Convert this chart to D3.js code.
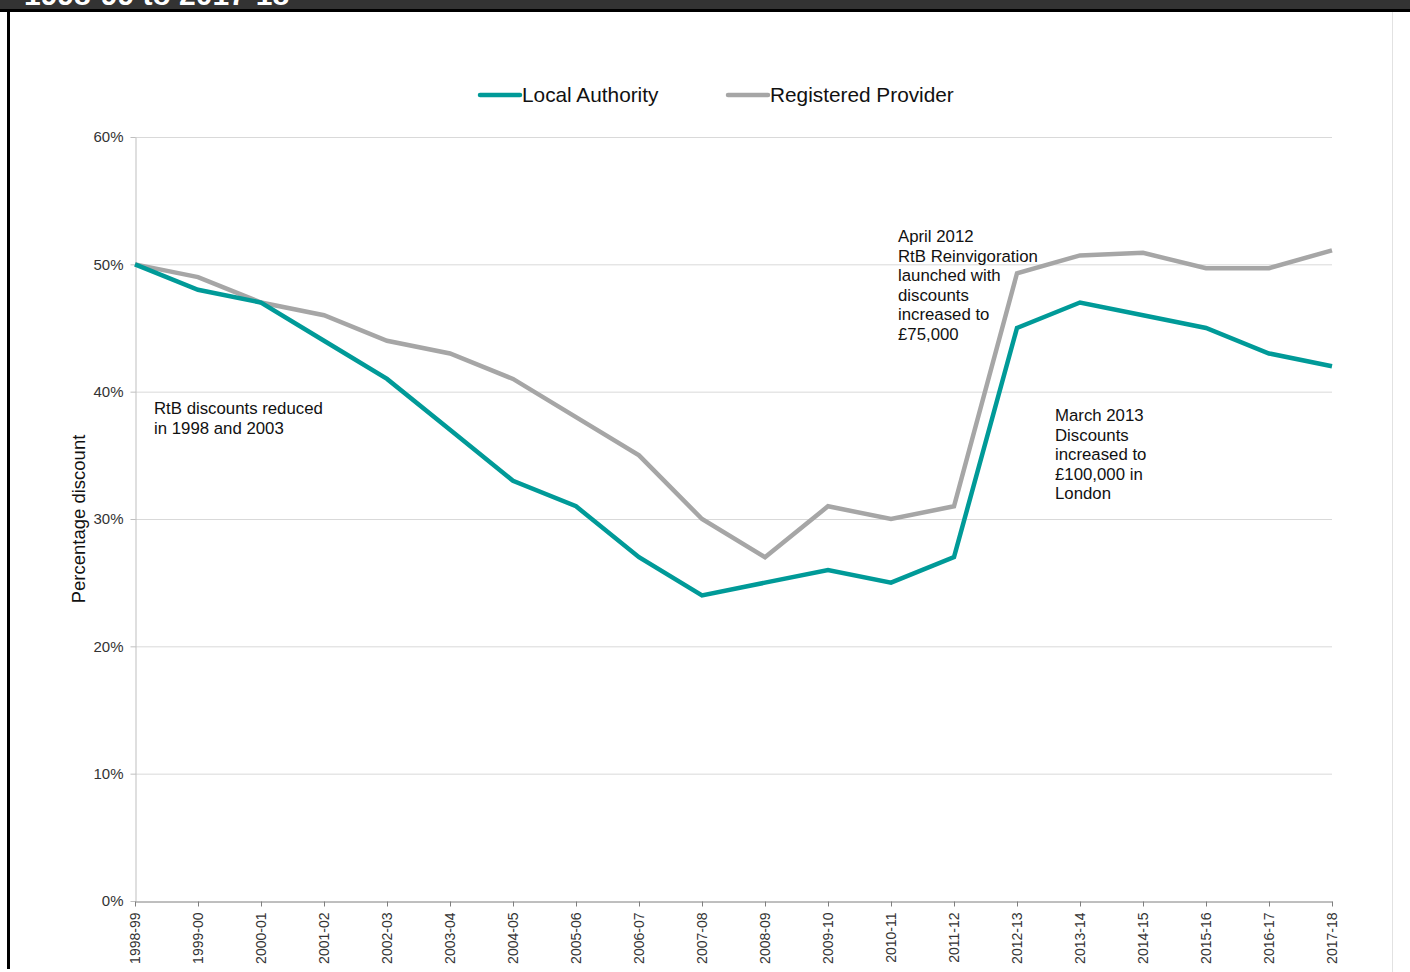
<!DOCTYPE html>
<html>
<head>
<meta charset="utf-8">
<script src="https://cdn.jsdelivr.net/npm/d3@7"></script>
<style>
  html, body { margin: 0; padding: 0; background: #fff; }
  svg { display: block; font-family: "Liberation Sans", Arial, sans-serif; }
</style>
</head>
<body>
<svg id="chart" width="1410" height="972"></svg>
<script>
// Financial years on the x axis
const years = ["1998-99","1999-00","2000-01","2001-02","2002-03","2003-04","2004-05",
  "2005-06","2006-07","2007-08","2008-09","2009-10","2010-11","2011-12","2012-13",
  "2013-14","2014-15","2015-16","2016-17","2017-18"];

// Average Right to Buy discount, percent of market value
const localAuthority = [50, 48, 47, 44, 41, 37, 33, 31, 27, 24, 25, 26, 25, 27, 45, 47, 46, 45, 43, 42];
const registeredProvider = [50, 49, 47, 46, 44, 43, 41, 38, 35, 30, 27, 31, 30, 31, 49.3, 50.7, 50.9, 49.7, 49.7, 51.1];

const seriesNames = ["Local Authority", "Registered Provider"];
const seriesColors = ["#009a98", "#a6a6a6"];
const yTicks = [0, 10, 20, 30, 40, 50, 60];

const notes = [
  { year: "1998-99", value: 38.7, dx: 19, lines: ["RtB discounts reduced", "in 1998 and 2003"] },
  { year: "2011-12", value: 52.2, dx: -56, lines: ["April 2012", "RtB Reinvigoration", "launched with", "discounts", "increased to", "£75,000"] },
  { year: "2014-15", value: 38.15, dx: -88, lines: ["March 2013", "Discounts", "increased to", "£100,000 in", "London"] }
];

const svg = d3.select("#chart");
const margin = { left: 135, right: 78, top: 137, bottom: 71 };
const W = 1410, H = 972;

// Frame: title strip, black rule and left border, faint right edge
svg.append("rect").attr("x", 0).attr("y", 0).attr("width", W).attr("height", 9).attr("fill", "#333333");
svg.append("text").attr("x", 24).attr("y", 5).attr("fill", "#ffffff")
  .attr("font-size", 30).attr("font-weight", "bold").text("1998-99 to 2017-18");
svg.append("rect").attr("x", 0).attr("y", 9).attr("width", W).attr("height", 3).attr("fill", "#000");
svg.append("rect").attr("x", 7).attr("y", 9).attr("width", 3).attr("height", 960).attr("fill", "#000");
svg.append("rect").attr("x", 1392).attr("y", 12).attr("width", 1).attr("height", H - 12).attr("fill", "#e2e2e2");

const x = d3.scalePoint().domain(years).range([margin.left, W - margin.right]);
const y = d3.scaleLinear().domain([0, 60]).range([H - margin.bottom, margin.top]);

// Horizontal gridlines
svg.append("g").selectAll("line").data(yTicks.filter(d => d > 0)).join("line")
  .attr("x1", margin.left).attr("x2", W - margin.right)
  .attr("y1", d => y(d) + 0.5).attr("y2", d => y(d) + 0.5)
  .attr("stroke", "#d9d9d9").attr("stroke-width", 1);

// Y axis
const yAxis = svg.append("g").attr("transform", `translate(${margin.left + 0.5},0)`)
  .call(d3.axisLeft(y).tickValues(yTicks).tickFormat(d => d + "%").tickSize(5).tickSizeOuter(0));
yAxis.select(".domain").attr("stroke", "#bfbfbf");
yAxis.selectAll(".tick line").attr("stroke", "#bfbfbf");
yAxis.selectAll(".tick text").attr("font-size", 15).attr("fill", "#333").attr("x", -12)
  .attr("font-family", "Liberation Sans, Arial, sans-serif");

// X axis
const xAxis = svg.append("g").attr("transform", `translate(0,${y(0) + 0.5})`)
  .call(d3.axisBottom(x).tickSize(5).tickSizeOuter(0));
xAxis.select(".domain").attr("stroke", "#7f7f7f");
xAxis.selectAll(".tick line").attr("stroke", "#7f7f7f");
xAxis.selectAll(".tick text")
  .attr("font-size", 14).attr("fill", "#333")
  .attr("font-family", "Liberation Sans, Arial, sans-serif")
  .attr("transform", "rotate(-90)")
  .attr("x", -11).attr("y", 0).attr("dy", "0.35em")
  .attr("text-anchor", "end");

// Y axis title
svg.append("text")
  .attr("transform", `translate(85,${(y(0) + y(60)) / 2}) rotate(-90)`)
  .attr("text-anchor", "middle").attr("font-size", 18.5).attr("fill", "#111")
  .text("Percentage discount");

// Series lines
const line = d3.line().x((d, i) => x(years[i])).y(d => y(d));
[registeredProvider, localAuthority].forEach((vals, k) => {
  const idx = k === 0 ? 1 : 0;
  svg.append("path").datum(vals)
    .attr("d", line).attr("fill", "none")
    .attr("stroke", seriesColors[idx]).attr("stroke-width", 4.5)
    .attr("stroke-linejoin", "miter").attr("stroke-linecap", "butt");
});

// Legend
const legendX = [480, 728];
seriesNames.forEach((name, i) => {
  const g = svg.append("g").attr("transform", `translate(${legendX[i]},95)`);
  g.append("line").attr("x1", 0).attr("x2", 40).attr("y1", 0).attr("y2", 0)
    .attr("stroke", seriesColors[i]).attr("stroke-width", 4.5).attr("stroke-linecap", "round");
  g.append("text").attr("x", 42).attr("y", 0).attr("dy", "0.35em")
    .attr("font-size", 20.8).attr("fill", "#111").text(name);
});

// Annotations
notes.forEach(n => {
  const t = svg.append("text")
    .attr("x", x(n.year) + n.dx).attr("y", y(n.value))
    .attr("font-size", 16.8).attr("fill", "#111");
  n.lines.forEach((l, i) => {
    t.append("tspan").attr("x", x(n.year) + n.dx).attr("dy", i === 0 ? "0.35em" : 19.5).text(l);
  });
});
</script>
</body>
</html>
